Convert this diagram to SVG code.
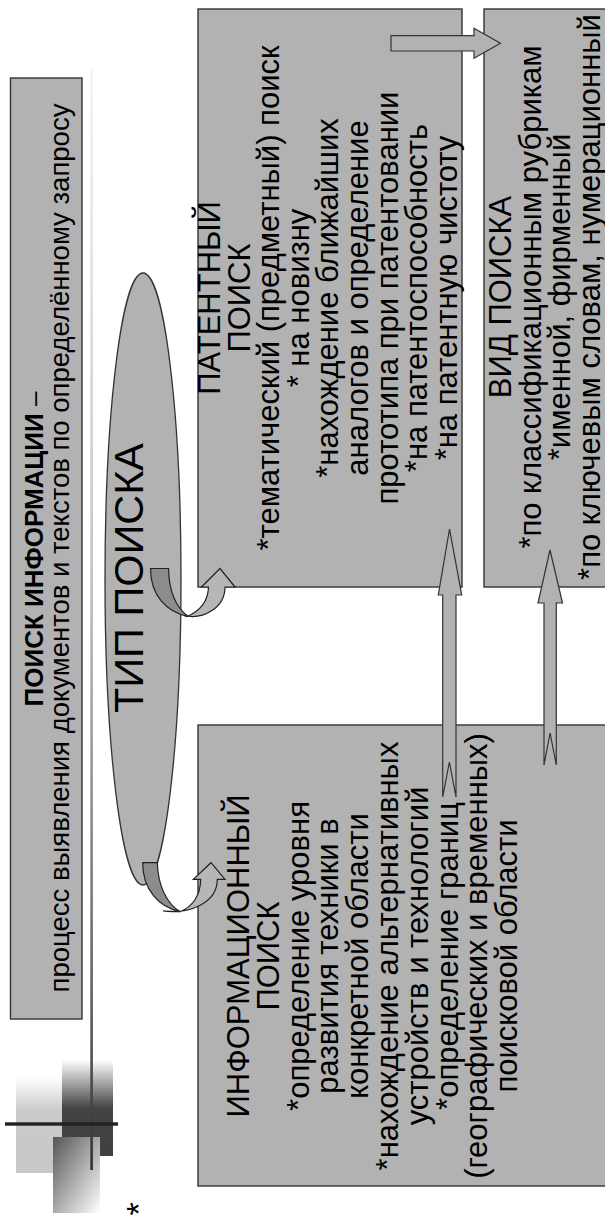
<svg xmlns="http://www.w3.org/2000/svg" width="605" height="1217" viewBox="0 0 605 1217">
<style>
.box{fill:#b2b2b2;stroke:#333;stroke-width:1.4}
.arr{fill:#b2b2b2;stroke:#333;stroke-width:1.2;stroke-linejoin:miter}
.dk{fill:#8c8c8c;stroke:#222;stroke-width:1.2}
.lt{fill:#b6b6b6;stroke:#222;stroke-width:1.2}
text{font-family:"Liberation Sans",Arial,sans-serif;fill:#000;text-anchor:middle}
.t31{font-size:31px}
</style>
<defs>
<linearGradient id="vl" x1="0" y1="0" x2="0" y2="1">
<stop offset="0" stop-color="#f4f4f4"/>
<stop offset="0.45" stop-color="#c4c4c4"/>
<stop offset="0.75" stop-color="#7a7a7a"/>
<stop offset="1" stop-color="#333"/>
</linearGradient>
<linearGradient id="g1" x1="0" y1="0" x2="0" y2="1">
<stop offset="0" stop-color="#fff"/>
<stop offset="0.35" stop-color="#cacaca"/>
<stop offset="1" stop-color="#c8c8c8"/>
</linearGradient>
<linearGradient id="g2" x1="0" y1="0" x2="0" y2="1">
<stop offset="0" stop-color="#fff"/>
<stop offset="0.5" stop-color="#444"/>
<stop offset="1" stop-color="#404040"/>
</linearGradient>
<linearGradient id="g3" x1="0" y1="0" x2="1" y2="1">
<stop offset="0" stop-color="#555"/>
<stop offset="1" stop-color="#fff"/>
</linearGradient>
</defs>

<g id="decor">
<rect x="16" y="1077" width="47" height="96" fill="url(#g1)"/>
<rect x="62" y="1060" width="51" height="96" fill="url(#g2)"/>
<rect x="53" y="1137" width="47" height="76" fill="url(#g3)"/>
<rect x="90.3" y="70" width="2.6" height="1100" fill="url(#vl)"/>
<rect x="5" y="1122.3" width="113" height="3.4" fill="#222"/>
<text transform="translate(150,1209) rotate(-90)" style="font-size:34px">*</text>
</g>

<g id="title">
<rect class="box" x="10.5" y="78" width="71.5" height="941"/>
<g transform="rotate(-90)">
<text x="-549" y="42.5" style="font-size:26px"><tspan font-weight="bold">ПОИСК ИНФОРМАЦИИ</tspan> –</text>
<text x="-548" y="69" style="font-size:27.5px">процесс выявления документов и текстов по определённому запросу</text>
</g>
</g>

<g id="type">
<ellipse cx="143" cy="579" rx="38" ry="306" fill="#b2b2b2" stroke="#333" stroke-width="1.3"/>
<g transform="rotate(-90)">
<text x="-578" y="142.7" style="font-size:40px" textLength="270" lengthAdjust="spacingAndGlyphs">ТИП ПОИСКА</text>
</g>
</g>

<g id="patent">
<rect class="box" x="198" y="9" width="264" height="578"/>
<g transform="rotate(-90)">
<text x="-298" y="220" class="t31">ПАТЕНТНЫЙ</text>
<text x="-298" y="249.6" class="t31">ПОИСК</text>
<text x="-298" y="279.2" class="t31">*тематический (предметный) поиск</text>
<text x="-298" y="308.8" class="t31">* на новизну</text>
<text x="-298" y="338.4" class="t31">*нахождение ближайших</text>
<text x="-298" y="368" class="t31">аналогов и определение</text>
<text x="-298" y="397.6" class="t31">прототипа при патентовании</text>
<text x="-298" y="427.2" class="t31">*на патентоспособность</text>
<text x="-298" y="456.8" class="t31">*на патентную чистоту</text>
</g>
</g>

<g id="kind">
<rect class="box" x="484" y="9" width="130" height="578"/>
<g transform="rotate(-90)">
<text x="-297" y="511" class="t31">ВИД ПОИСКА</text>
<text x="-297" y="540.6" class="t31">*по классификационным рубрикам</text>
<text x="-297" y="570.2" class="t31">*именной, фирменный</text>
<text x="-297" y="599.8" class="t31">*по ключевым словам, нумерационный</text>
</g>
</g>

<g id="info">
<rect class="box" x="198" y="725" width="416" height="461"/>
<g transform="rotate(-90)">
<text x="-956" y="249" class="t31">ИНФОРМАЦИОННЫЙ</text>
<text x="-956" y="278.8" class="t31">ПОИСК</text>
<text x="-956" y="308.6" class="t31">*определение уровня</text>
<text x="-956" y="338.4" class="t31">развития техники в</text>
<text x="-956" y="368.2" class="t31">конкретной области</text>
<text x="-956" y="398" class="t31">*нахождение альтернативных</text>
<text x="-956" y="427.8" class="t31">устройств и технологий</text>
<text x="-956" y="457.6" class="t31">*определение границ</text>
<text x="-956" y="487.4" class="t31">(географических и временных)</text>
<text x="-956" y="517.2" class="t31">поисковой области</text>
</g>
</g>

<g id="connectors">
<path class="arr" d="M391,35.7 L474,35.7 L474,28.3 L500.4,43.3 L474,58.3 L474,51 L391,51 Z"/>
<path class="arr" d="M449.5,529 L461.7,595 L456,595 L456,797 L449.4,762 L442.7,797 L442.7,595 L438.3,595 Z"/>
<path class="arr" d="M550,550 L562.5,603 L556.3,603 L556.3,765 L550.1,733 L544,765 L544,603 L538,603 Z"/>
<path class="lt" d="M184,615.5 C203,620 225,608 225,587 L235,587 L220,568.5 L201.5,587 L208.5,587 C208,601 200,611 187,616.5 Z"/>
<path class="dk" d="M150.5,568.5 L168.5,568.5 C169,592 177,608 188,616.5 C167,612 150.5,596 150.5,568.5 Z"/>
<path class="lt" d="M163,911 C190,914 217.3,903 217.3,879.3 L225,879.3 L211,862.7 L193.3,879.3 L200.7,879.3 C200.5,896 192,907 180,911.7 Z"/>
<path class="dk" d="M142.7,862.7 L157.3,862.7 C158,886 167,904 180,911.7 C159,907 142.7,890 142.7,862.7 Z"/>
</g>
</svg>
